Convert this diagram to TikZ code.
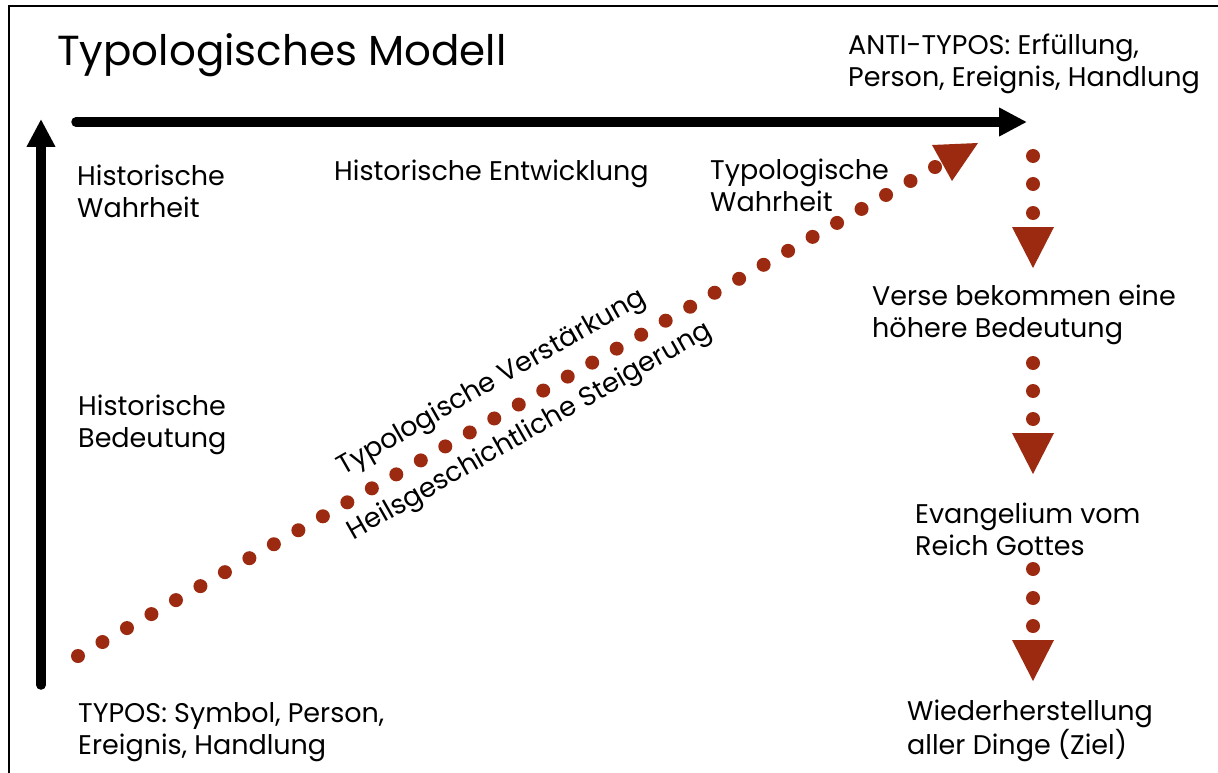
\documentclass[tikz,border=0pt]{standalone}
\usepackage{fontspec}
\setmainfont{Poppins}
\usetikzlibrary{arrows.meta}
\definecolor{dred}{RGB}{156,42,16}
\begin{document}
\begin{tikzpicture}[x=1pt,y=-1pt,
  lbl/.style={anchor=west,align=left,inner sep=0pt,font=\fontsize{27}{32}\selectfont},
  rlbl/.style={anchor=center,inner sep=0pt,font=\fontsize{27}{32}\selectfont,rotate=29.7},
  axis/.style={line width=9.5pt,line cap=round,-{Triangle[length=28pt,width=27pt]}},
  dot/.style={fill=dred},
  head/.style={fill=dred}]
\useasboundingbox (0,0) rectangle (1218,773);
\fill[white] (0,0) rectangle (1218,773);
\draw[line width=2pt] (9,773) -- (9,6) -- (1218,6);
% axes
\coordinate (vs) at (41,685);
\coordinate (ve) at (41,119);
\coordinate (hs) at (76,122);
\coordinate (he) at (1027,122);
\draw[axis] (vs) -- (ve);
\draw[axis] (hs) -- (he);
% title and labels
\node[anchor=base west,inner sep=0pt,font=\fontsize{42}{48}\selectfont] (title) at (57,66) {Typologisches Modell};
\node[lbl] (anti) at (848,64) {ANTI-TYPOS: Erfüllung,\\Person, Ereignis, Handlung};
\node[lbl] (hw) at (77,191) {Historische\\Wahrheit};
\node[lbl] (he2) at (334,174) {Historische Entwicklung};
\node[lbl] (tw) at (710,185) {Typologische\\Wahrheit};
\node[lbl] (hb) at (78,425) {Historische\\Bedeutung};
\node[lbl] (typos) at (78,732) {TYPOS: Symbol, Person,\\Ereignis, Handlung};
\node[lbl] (verse) at (872,315) {Verse bekommen eine\\höhere Bedeutung};
\node[lbl] (evg) at (915,529) {Evangelium vom\\Reich Gottes};
\node[lbl] (wied) at (907,731) {Wiederherstellung\\aller Dinge (Ziel)};
\node[rlbl] (tv) at (492,383) {Typologische Verstärkung};
\node[rlbl] (hs2) at (530,432) {Heilsgeschichtliche Steigerung};
% diagonal dotted arrow
\foreach \i in {0,...,35} \fill[dot] (78+\i*24.486,656-\i*13.971) circle (7);
\fill[head] (932,145) -- (978,143) -- (952,181) -- cycle;
% vertical dotted arrows
\foreach \y in {156,184,213, 363,391,419, 569,598,626} \fill[dot] (1033,\y) circle (7);
\foreach \t in {227,433,640} \fill[head] (1012,\t) -- (1054,\t) -- (1033,\t+41) -- cycle;
\end{tikzpicture}
\end{document}
